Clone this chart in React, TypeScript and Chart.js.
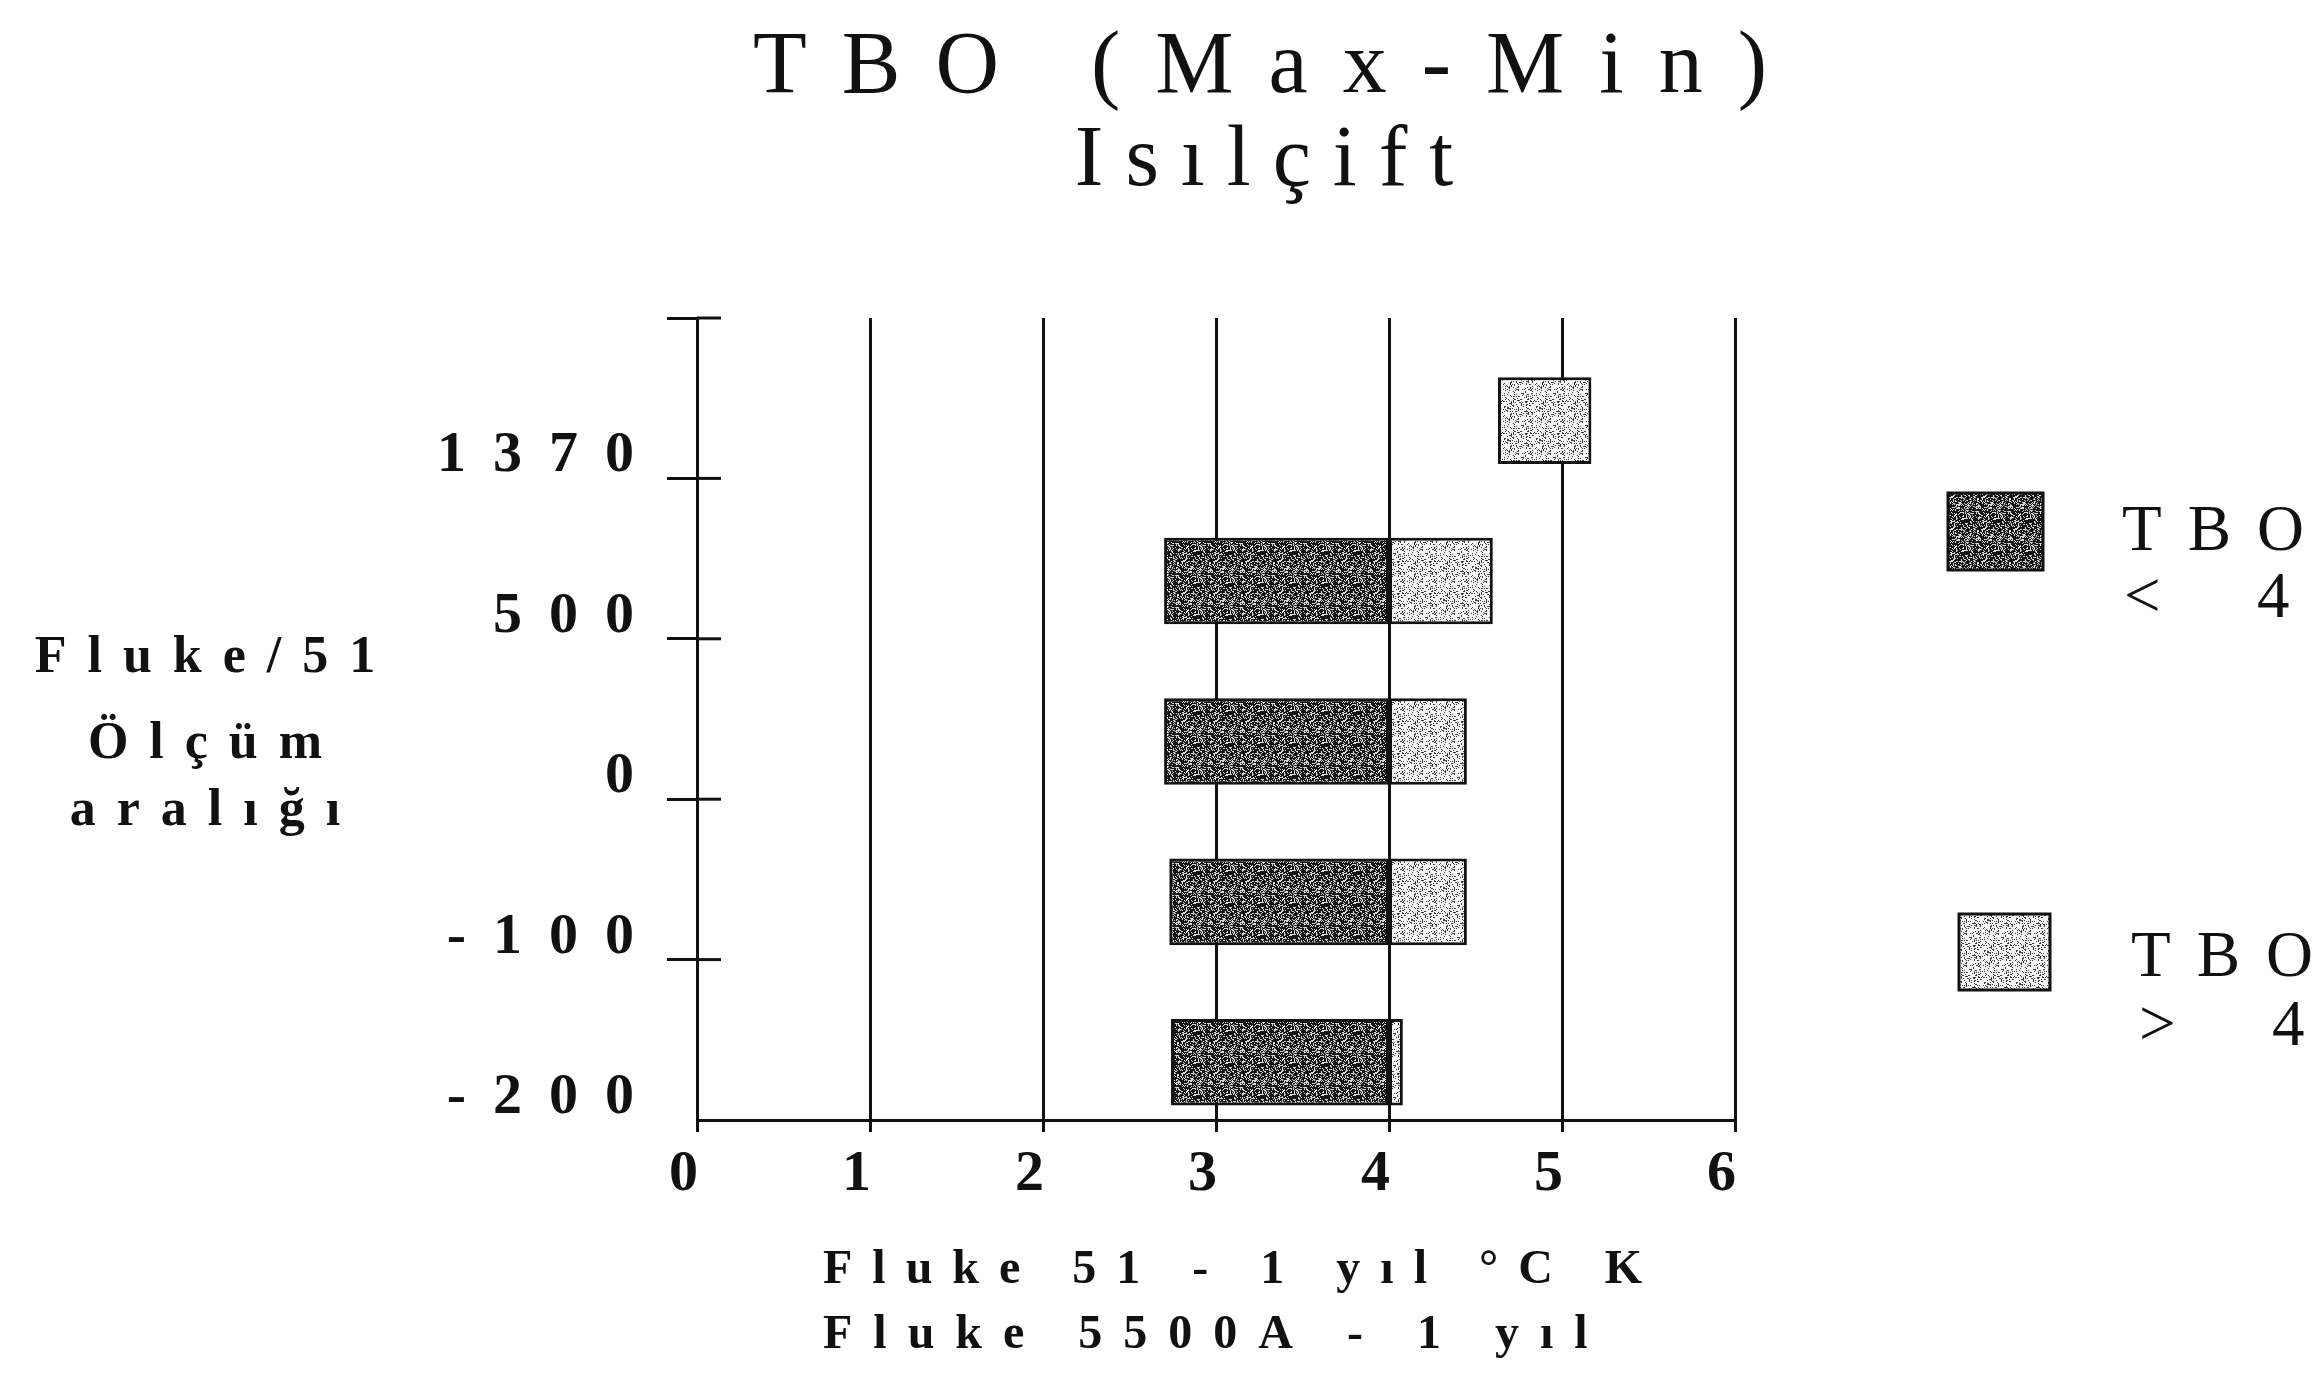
import React, { useEffect, useRef } from 'react';
import { Chart, registerables } from 'chart.js';

Chart.register(...registerables);

// ---- data ----
const categories = ['-200', '-100', '0', '500', '1370'];
const belowStart = [2.74, 2.73, 2.7, 2.7, null];
const belowEnd = [4.0, 4.0, 4.0, 4.0, null];
const aboveStart = [4.0, 4.0, 4.0, 4.0, 4.63];
const aboveEnd = [4.08, 4.45, 4.45, 4.6, 5.17];
const xMin = 0;
const xMax = 6;
const seriesNames = ['TBO < 4', 'TBO > 4'];
const legendLines = [
  ['TBO', '< 4'],
  ['TBO', '> 4'],
];
const titleLines = ['TBO (Max-Min)', 'Isılçift'];
const yTitleLines = ['Fluke/51', 'Ölçüm', 'aralığı'];
const xTitleLines = ['Fluke 51 - 1 yıl °C K', 'Fluke 5500A - 1 yıl'];

// band boundaries sit 0.36 below each category centre
const BAND_SHIFT = 0.36;
const yTickValues = [...categories.map((_, i) => i - BAND_SHIFT), categories.length - BAND_SHIFT];
const yTickLabels = [...categories, ''];

const FAMILY = '"Liberation Serif", "DejaVu Serif", serif';
const INK = '#111';

function hash(x: number, y: number) {
  let h = (Math.imul(x, 374761393) + Math.imul(y, 668265263)) | 0;
  h = Math.imul(h ^ (h >>> 13), 1274126177);
  return ((h ^ (h >>> 16)) >>> 0) / 4294967296;
}

function makePattern(base: string, speck: string, share: number, salt: number) {
  const n = 32;
  const c = document.createElement('canvas');
  c.width = n;
  c.height = n;
  const g = c.getContext('2d')!;
  g.fillStyle = base;
  g.fillRect(0, 0, n, n);
  g.fillStyle = speck;
  for (let y = 0; y < n; y++) {
    for (let x = 0; x < n; x++) {
      if (hash(x + salt, y) < share) g.fillRect(x, y, 1, 1);
    }
  }
  return g.createPattern(c, 'repeat')!;
}

function drawSpaced(
  ctx: CanvasRenderingContext2D,
  text: string,
  x: number,
  y: number,
  font: string,
  spacing: number,
  align: 'left' | 'center'
) {
  ctx.save();
  ctx.font = font;
  (ctx as any).letterSpacing = spacing + 'px';
  ctx.textBaseline = 'alphabetic';
  ctx.textAlign = 'left';
  ctx.fillStyle = INK;
  const w = ctx.measureText(text).width;
  const sx = align === 'center' ? x - (w - spacing) / 2 : x;
  ctx.fillText(text, sx, y);
  ctx.restore();
}

function rangeData(starts: (number | null)[], ends: (number | null)[]) {
  const out: { y: number; x: [number, number] }[] = [];
  categories.forEach((_, i) => {
    const a = starts[i];
    const b = ends[i];
    if (a != null && b != null) out.push({ y: i, x: [a, b] });
  });
  return out;
}

export default function App() {
  const ref = useRef<HTMLCanvasElement | null>(null);

  useEffect(() => {
    const canvas = ref.current;
    if (!canvas) return;

    const darkPat = makePattern('#151515', '#d9d9d9', 0.3, 7);
    const lightPat = makePattern('#f4f4f4', '#3c3c3c', 0.22, 91);

    const spacingPlugin = {
      id: 'tickSpacing',
      beforeDraw(chart: any) {
        chart.ctx.letterSpacing = '27px';
      },
      afterDraw(chart: any) {
        chart.ctx.letterSpacing = '0px';
      },
    };

    const decorPlugin = {
      id: 'decor',
      afterDraw(chart: any) {
        const ctx: CanvasRenderingContext2D = chart.ctx;
        const ys = chart.scales.y;
        const left = chart.chartArea.left;
        ctx.save();
        ctx.strokeStyle = INK;
        ctx.lineWidth = 3;
        yTickValues.forEach((v, i) => {
          if (i === 0) return;
          const py = ys.getPixelForValue(v);
          ctx.beginPath();
          ctx.moveTo(left, py);
          ctx.lineTo(left + 24, py);
          ctx.stroke();
        });
        ctx.restore();

        drawSpaced(ctx, titleLines[0], 1260, 92, `88px ${FAMILY}`, 35, 'center');
        drawSpaced(ctx, titleLines[1], 1264, 185, `86px ${FAMILY}`, 22, 'center');

        const yBase = [672, 758, 825];
        yTitleLines.forEach((t, i) => drawSpaced(ctx, t, 205, yBase[i], `bold 52px ${FAMILY}`, 21, 'center'));

        drawSpaced(ctx, xTitleLines[0], 823, 1283, `bold 48px ${FAMILY}`, 20, 'left');
        drawSpaced(ctx, xTitleLines[1], 823, 1348, `bold 48px ${FAMILY}`, 21, 'left');

        const boxes = [
          { x: 1948, y: 493, w: 95, h: 77, fill: darkPat, tx: [2122, 2124], ty: [550, 617] },
          { x: 1959, y: 914, w: 91, h: 76, fill: lightPat, tx: [2131, 2139], ty: [976, 1045] },
        ];
        boxes.forEach((b, i) => {
          ctx.save();
          ctx.fillStyle = b.fill;
          ctx.fillRect(b.x, b.y, b.w, b.h);
          ctx.strokeStyle = INK;
          ctx.lineWidth = 3;
          ctx.strokeRect(b.x, b.y, b.w, b.h);
          ctx.restore();
          drawSpaced(ctx, legendLines[i][0], b.tx[0], b.ty[0], `65px ${FAMILY}`, 26, 'left');
          drawSpaced(ctx, legendLines[i][1], b.tx[1], b.ty[1], `65px ${FAMILY}`, 40, 'left');
        });
      },
    };

    const chart = new Chart(canvas, {
      type: 'bar',
      data: {
        datasets: [
          {
            label: seriesNames[0],
            data: rangeData(belowStart, belowEnd) as any,
            backgroundColor: darkPat,
            borderColor: INK,
            borderWidth: 3,
            borderSkipped: false,
            grouped: false,
            categoryPercentage: 1,
            barPercentage: 0.54,
          },
          {
            label: seriesNames[1],
            data: rangeData(aboveStart, aboveEnd) as any,
            backgroundColor: lightPat,
            borderColor: INK,
            borderWidth: 3,
            borderSkipped: false,
            grouped: false,
            categoryPercentage: 1,
            barPercentage: 0.54,
          },
        ],
      },
      options: {
        responsive: false,
        animation: false,
        devicePixelRatio: 1,
        indexAxis: 'y',
        layout: { padding: { left: 0, top: 318, right: 583, bottom: 160 } },
        plugins: {
          legend: { display: false },
          title: { display: false },
          tooltip: { enabled: false },
        },
        scales: {
          x: {
            type: 'linear',
            position: 'bottom',
            min: xMin,
            max: xMax,
            offset: false,
            afterFit: (s: any) => {
              s.height = 100;
            },
            ticks: {
              stepSize: 1,
              color: INK,
              padding: 8,
              font: { family: FAMILY, size: 58, weight: 'bold' },
            },
            grid: { color: INK, lineWidth: 3, tickLength: 12, drawOnChartArea: true, offset: false },
            border: { color: INK, width: 3 },
          },
          y: {
            type: 'linear',
            position: 'left',
            min: yTickValues[0],
            max: yTickValues[yTickValues.length - 1],
            offset: false,
            bounds: 'data',
            afterFit: (s: any) => {
              s.width = 697;
            },
            afterBuildTicks: (s: any) => {
              s.ticks = yTickValues.map((v) => ({ value: v }));
            },
            ticks: {
              autoSkip: false,
              color: INK,
              padding: 6,
              labelOffset: -22,
              font: { family: FAMILY, size: 58, weight: 'bold' },
              callback: (_v: any, i: number) => yTickLabels[i] ?? '',
            },
            grid: {
              offset: false,
              drawOnChartArea: false,
              tickLength: 30,
              lineWidth: 3,
              color: (c: any) => (c.index === 0 ? 'rgba(0,0,0,0)' : INK),
            },
            border: { color: INK, width: 3 },
          },
        },
      } as any,
      plugins: [spacingPlugin, decorPlugin],
    });

    return () => chart.destroy();
  }, []);

  return (
    <div style={{ position: 'fixed', left: 0, top: 0, width: 2318, height: 1380, background: '#fff' }}>
      <canvas ref={ref} width={2318} height={1380} style={{ display: 'block' }} />
    </div>
  );
}
